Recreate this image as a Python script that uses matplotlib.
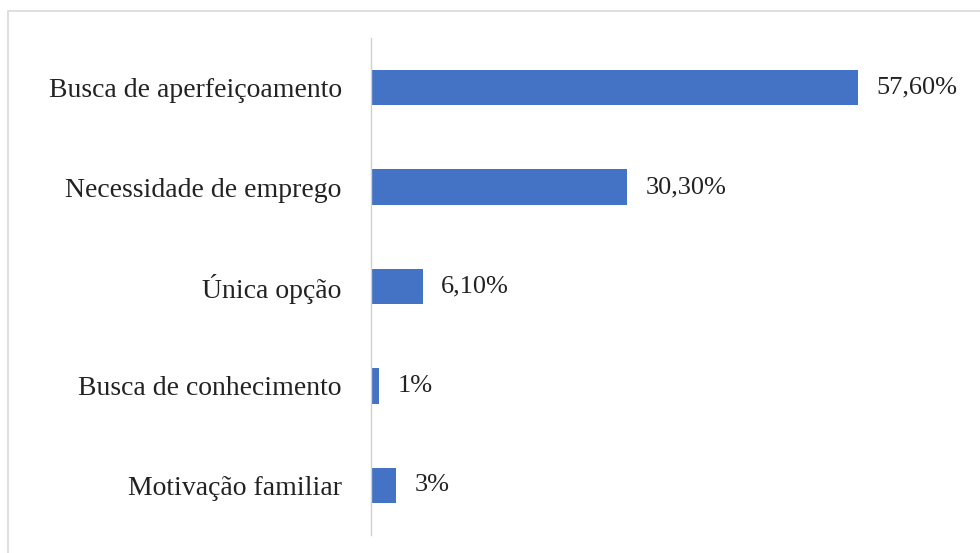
import matplotlib
matplotlib.use("Agg")
import matplotlib.pyplot as plt
from matplotlib.patches import Rectangle

categories = ["Busca de aperfeiçoamento", "Necessidade de emprego", "Única opção",
              "Busca de conhecimento", "Motivação familiar"]
values = [57.6, 30.3, 6.1, 1.0, 3.0]
labels = ["57,60%", "30,30%", "6,10%", "1%", "3%"]

plt.rcParams['font.family'] = ['Liberation Serif', 'DejaVu Serif']

W, H = 980, 553
fig = plt.figure(figsize=(W / 100, H / 100), dpi=100)
fig.patches.append(Rectangle((8 / W, -3 / H), 1.1, (H - 8) / H, transform=fig.transFigure,
                             fill=False, edgecolor='#d9d9d9', linewidth=1.2))

left, right = 371, 963
top, bottom = 38, 535
ax = fig.add_axes([left / W, 1 - bottom / H, (right - left) / W, (bottom - top) / H])
xmax = (right - left) / 8.455
ys = list(range(len(categories)))
ax.barh(ys, values, height=0.355, color='#4472C4')
ax.set_xlim(0, xmax)
ax.set_ylim(len(categories) - 0.5, -0.5)
ax.set_yticks(ys)
ax.set_yticklabels(categories, fontsize=20, color='#222222')
ax.tick_params(axis='y', length=0, pad=21)
ax.set_xticks([])
for s in ['top', 'right', 'bottom']:
    ax.spines[s].set_visible(False)
ax.spines['left'].set_color('#d0d0d0')
ax.spines['left'].set_linewidth(1.0)
for y, v, lab in zip(ys, values, labels):
    ax.annotate(lab, (v, y), xytext=(13, 0), textcoords='offset points',
                va='center', ha='left', fontsize=19, color='#222222')

fig.savefig('out.png', dpi=100)
